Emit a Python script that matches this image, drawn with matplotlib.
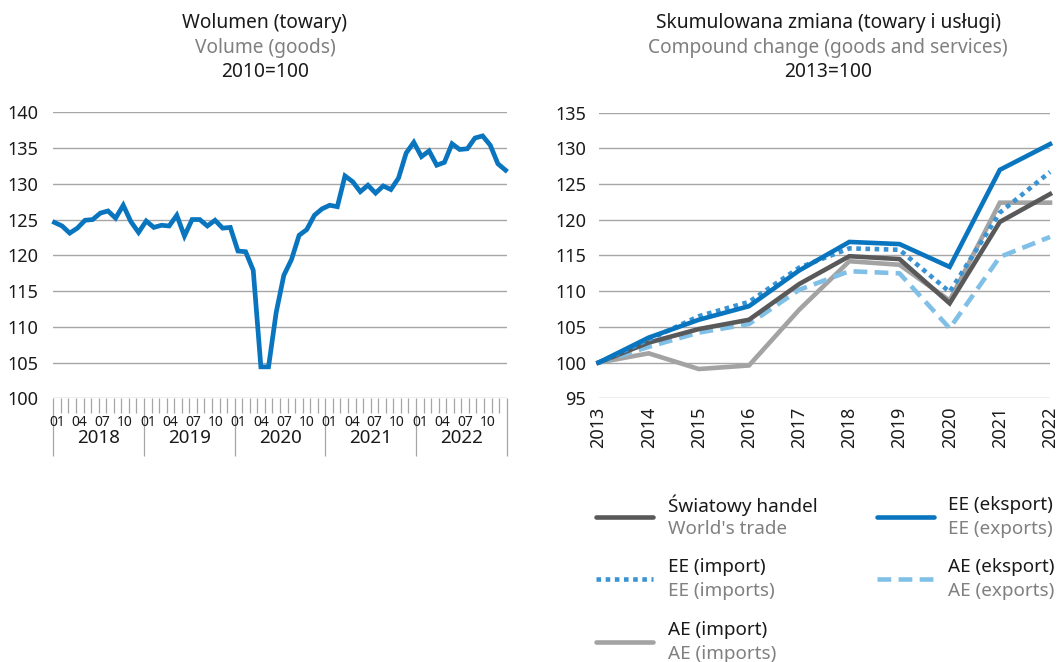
import matplotlib
matplotlib.use("Agg")
import matplotlib.pyplot as plt
from matplotlib.lines import Line2D
import numpy as np

plt.rcParams['font.family'] = ['Noto Sans', 'DejaVu Sans']

# --- dane: wolumen handlu (towary), 2010=100, miesiecznie 2018-01 .. 2022-12
years_m = [2018, 2019, 2020, 2021, 2022]
month_labels = ["01", "04", "07", "10"]
volume = [124.6, 124.1, 123.1, 123.8, 124.9, 125.0, 125.9, 126.2, 125.2, 127.0, 124.7, 123.2,
          124.8, 123.9, 124.2, 124.1, 125.6, 122.7, 125.0, 125.0, 124.1, 124.9, 123.8, 123.9,
          120.6, 120.5, 117.9, 104.4, 104.4, 112.0, 117.2, 119.4, 122.8, 123.6, 125.6, 126.5,
          127.0, 126.8, 131.1, 130.3, 128.9, 129.8, 128.7, 129.7, 129.2, 130.8, 134.3, 135.8,
          133.8, 134.6, 132.6, 133.0, 135.6, 134.8, 134.9, 136.4, 136.7, 135.4, 132.8, 131.9]

# --- dane: skumulowana zmiana (towary i uslugi), 2013=100
years = [2013, 2014, 2015, 2016, 2017, 2018, 2019, 2020, 2021, 2022]
world = [100, 102.8, 104.7, 106.0, 111.0, 114.9, 114.5, 108.3, 119.7, 123.6]
ee_exp = [100, 103.5, 106.0, 107.9, 112.9, 116.9, 116.6, 113.4, 127.0, 130.6]
ee_imp = [100, 103.2, 106.5, 108.5, 113.3, 116.0, 115.8, 109.9, 121.0, 126.7]
ae_exp = [100, 102.2, 104.2, 105.4, 110.2, 112.8, 112.5, 104.8, 114.8, 117.6]
ae_imp = [100, 101.3, 99.1, 99.6, 107.4, 114.2, 113.7, 108.7, 122.4, 122.4]

BLUE = '#0a75bf'
DOT_BLUE = '#3a93d3'
LIGHT_BLUE = '#80bfe6'
DARK_GREY = '#595959'
LIGHT_GREY = '#a3a3a3'
GRID = '#a6a6a6'
TXT = '#1a1a1a'
SUB = '#808080'

W, H = 1059, 662
fig = plt.figure(figsize=(W / 100, H / 100), dpi=100)

def px(x, y):
    return x / W, 1 - y / H

# ---------------- lewy wykres ----------------
axL = fig.add_axes([53.3 / W, 1 - 398.3 / H, (506.7 - 53.3) / W, (398.3 - 112.3) / H])
lo, hi = -0.15, len(volume) - 1 + 0.15
axL.plot(range(len(volume)), volume, color=BLUE, lw=3.4, solid_joinstyle='miter', clip_on=False)
axL.set_xlim(lo, hi)
axL.set_ylim(100, 140)
axL.set_yticks(range(100, 141, 5))
axL.grid(axis='y', color=GRID, lw=1)
axL.set_axisbelow(True)
for s in axL.spines.values():
    s.set_visible(False)
axL.tick_params(axis='y', length=0, pad=11, labelsize=13, labelcolor=TXT)

nm = 12 * len(years_m)
cw = (hi - lo) / nm
axL.set_xticks([lo + 12 * k * cw for k in range(len(years_m) + 1)])
axL.set_xticks([lo + k * cw for k in range(nm + 1)], minor=True)
axL.set_xticklabels([])
axL.tick_params(axis='x', which='major', length=42, width=0.9, color=GRID)
axL.tick_params(axis='x', which='minor', length=11, width=0.9, color=GRID)
tr = axL.get_xaxis_transform()
for yi, yr in enumerate(years_m):
    for mi, lab in enumerate(month_labels):
        axL.text(lo + (12 * yi + 3 * mi + 0.5) * cw, -0.085, lab, transform=tr,
                 ha='center', va='center', fontsize=10, color=TXT,
                 family=['Liberation Sans Narrow', 'Noto Sans'])
    axL.text(lo + (12 * yi + 6) * cw, -0.139, str(yr), transform=tr,
             ha='center', va='center', fontsize=13.5, color=TXT)

# ---------------- prawy wykres ----------------
axR = fig.add_axes([598.5 / W, 1 - 398.3 / H, (1050 - 598.5) / W, (398.3 - 112.7) / H])
series = [
    ("Światowy handel", "World's trade", world, DARK_GREY, '-'),
    ("EE (eksport)", "EE (exports)", ee_exp, BLUE, '-'),
    ("EE (import)", "EE (imports)", ee_imp, DOT_BLUE, (0, (1, 1))),
    ("AE (eksport)", "AE (exports)", ae_exp, LIGHT_BLUE, (0, (3, 1.6))),
    ("AE (import)", "AE (imports)", ae_imp, LIGHT_GREY, '-'),
]
order = [4, 3, 0, 2, 1]
for i in order:
    pl, en, vals, col, ls = series[i]
    axR.plot(years, vals, color=col, lw=3.3, ls=ls, dash_capstyle='butt',
             solid_joinstyle='miter', clip_on=False)
axR.set_xlim(years[0], years[-1])
axR.set_ylim(95, 135)
axR.set_yticks(range(95, 136, 5))
axR.set_xticks(years)
axR.set_xticklabels([str(y) for y in years], rotation=90)
axR.grid(axis='y', color=GRID, lw=1)
axR.set_axisbelow(True)
for s in axR.spines.values():
    s.set_visible(False)
axR.tick_params(axis='both', length=0, labelsize=13, labelcolor=TXT)
axR.tick_params(axis='y', pad=9)
axR.tick_params(axis='x', pad=6)

# ---------------- tytuly ----------------
titles = [
    (265, ["Wolumen (towary)", "Volume (goods)", "2010=100"]),
    (828, ["Skumulowana zmiana (towary i usługi)", "Compound change (goods and services)", "2013=100"]),
]
for cx, lines in titles:
    for k, (t, c) in enumerate(zip(lines, [TXT, SUB, TXT])):
        fig.text(*px(cx, 22.7 + 24.8 * k), t, ha='center', va='center', fontsize=13.8, color=c)

# ---------------- legenda ----------------
leg_pos = {0: (0, 0), 1: (1, 0), 2: (0, 1), 3: (1, 1), 4: (0, 2)}
col_x = [(596, 668), (877, 948)]
row_y = [517, 579, 642]
for i, (pl, en, vals, col, ls) in enumerate(series):
    c, r = leg_pos[i]
    x0, xt = col_x[c]
    y = row_y[r]
    a, b = px(x0, y)
    e, _ = px(x0 + 57, y)
    fig.add_artist(Line2D([a, e], [b, b], transform=fig.transFigure, color=col, lw=3.3,
                          ls=ls, dash_capstyle='butt', solid_capstyle='round'))
    fig.text(*px(xt, y - 12), pl, ha='left', va='center', fontsize=13.6, color=TXT)
    fig.text(*px(xt, y + 12), en, ha='left', va='center', fontsize=13.6, color=SUB)

fig.savefig("out.png", dpi=100)
